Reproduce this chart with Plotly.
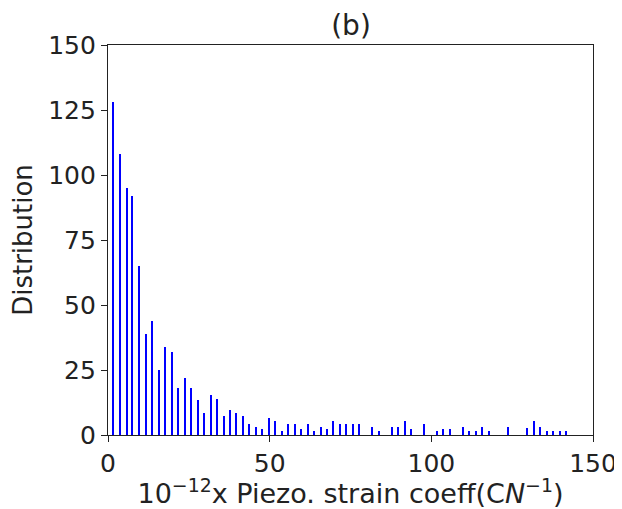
import plotly.graph_objects as go

# bin positions (x) and distribution counts (y)
bin_x = [1.7, 3.8, 5.8, 7.6, 9.8, 11.8, 13.8, 15.8, 17.8, 19.8,
         21.8, 23.8, 25.8, 27.8, 29.8, 31.8, 33.8, 35.8, 37.8, 39.8,
         41.8, 43.8, 45.8, 47.8, 49.8, 51.8, 53.8, 55.8, 57.8, 59.8,
         61.8, 63.8, 65.8, 67.8, 69.8, 71.8, 73.8, 75.8, 77.8, 81.8,
         83.8, 87.8, 89.8, 91.8, 93.8, 97.8, 101.8, 103.8, 105.8, 109.8,
         111.8, 113.8, 115.8, 117.8, 123.8, 129.8, 131.8, 133.8, 135.8, 137.8,
         139.8, 141.8]
counts = [128, 108, 95, 92, 65, 39, 44, 25, 34, 32,
          18, 22, 18, 13.5, 8.3, 15.3, 14, 7.2, 9.6, 8.3,
          7.2, 4.1, 3, 2.4, 6.5, 5.5, 1.4, 4.2, 4.2, 2.4,
          4.2, 1.4, 3, 2.4, 5.4, 4.2, 4.2, 4.2, 4.2, 3,
          1.4, 3, 3, 5.4, 2.4, 4.2, 1.4, 2.4, 2.4, 3,
          1.4, 1.4, 3, 1.4, 3, 2.6, 5.4, 3, 1.4, 1.4,
          1.4, 1.4]

x_ticks = [0, 50, 100, 150]
y_ticks = [0, 25, 50, 75, 100, 125, 150]

title_text = "(b)"
x_title = "10<sup>\u221212</sup>x Piezo. strain coeff(C<i>N</i><sup>\u22121</sup>)"
y_title = "Distribution"

font_family = "DejaVu Sans"

# the page body has an 8px default margin, so the figure is sized to fit
W, H = 614, 501

fig = go.Figure()
fig.add_trace(go.Bar(
    x=bin_x, y=counts, width=0.45,
    marker=dict(color="#0000ff", line=dict(width=0)),
    showlegend=False,
))

axis_common = dict(
    showline=True, mirror=True, linecolor="#222222", linewidth=1.2,
    ticks="outside", ticklen=6, tickwidth=1.2, tickcolor="#222222",
    showgrid=False, zeroline=False, automargin=False,
    tickfont=dict(family=font_family, size=25, color="#222222"),
)

fig.update_layout(
    width=W, height=H,
    margin=dict(l=100, r=29, t=37, b=74, autoexpand=False),
    paper_bgcolor="white", plot_bgcolor="white",
    bargap=0,
    title=dict(text=title_text, x=(351 - 8) / W, xanchor="center",
               yref="container", y=1 - 17 / H, yanchor="middle",
               font=dict(family=font_family, size=28, color="#222222")),
    xaxis=dict(range=[0, 150], tickvals=x_ticks,
               title=dict(text=x_title, standoff=2,
                          font=dict(family=font_family, size=27, color="#222222")),
               **axis_common),
    yaxis=dict(range=[0, 150], tickvals=y_ticks,
               title=dict(text=y_title, standoff=10,
                          font=dict(family=font_family, size=26, color="#222222")),
               **axis_common),
)

fig.write_html("out.html")
